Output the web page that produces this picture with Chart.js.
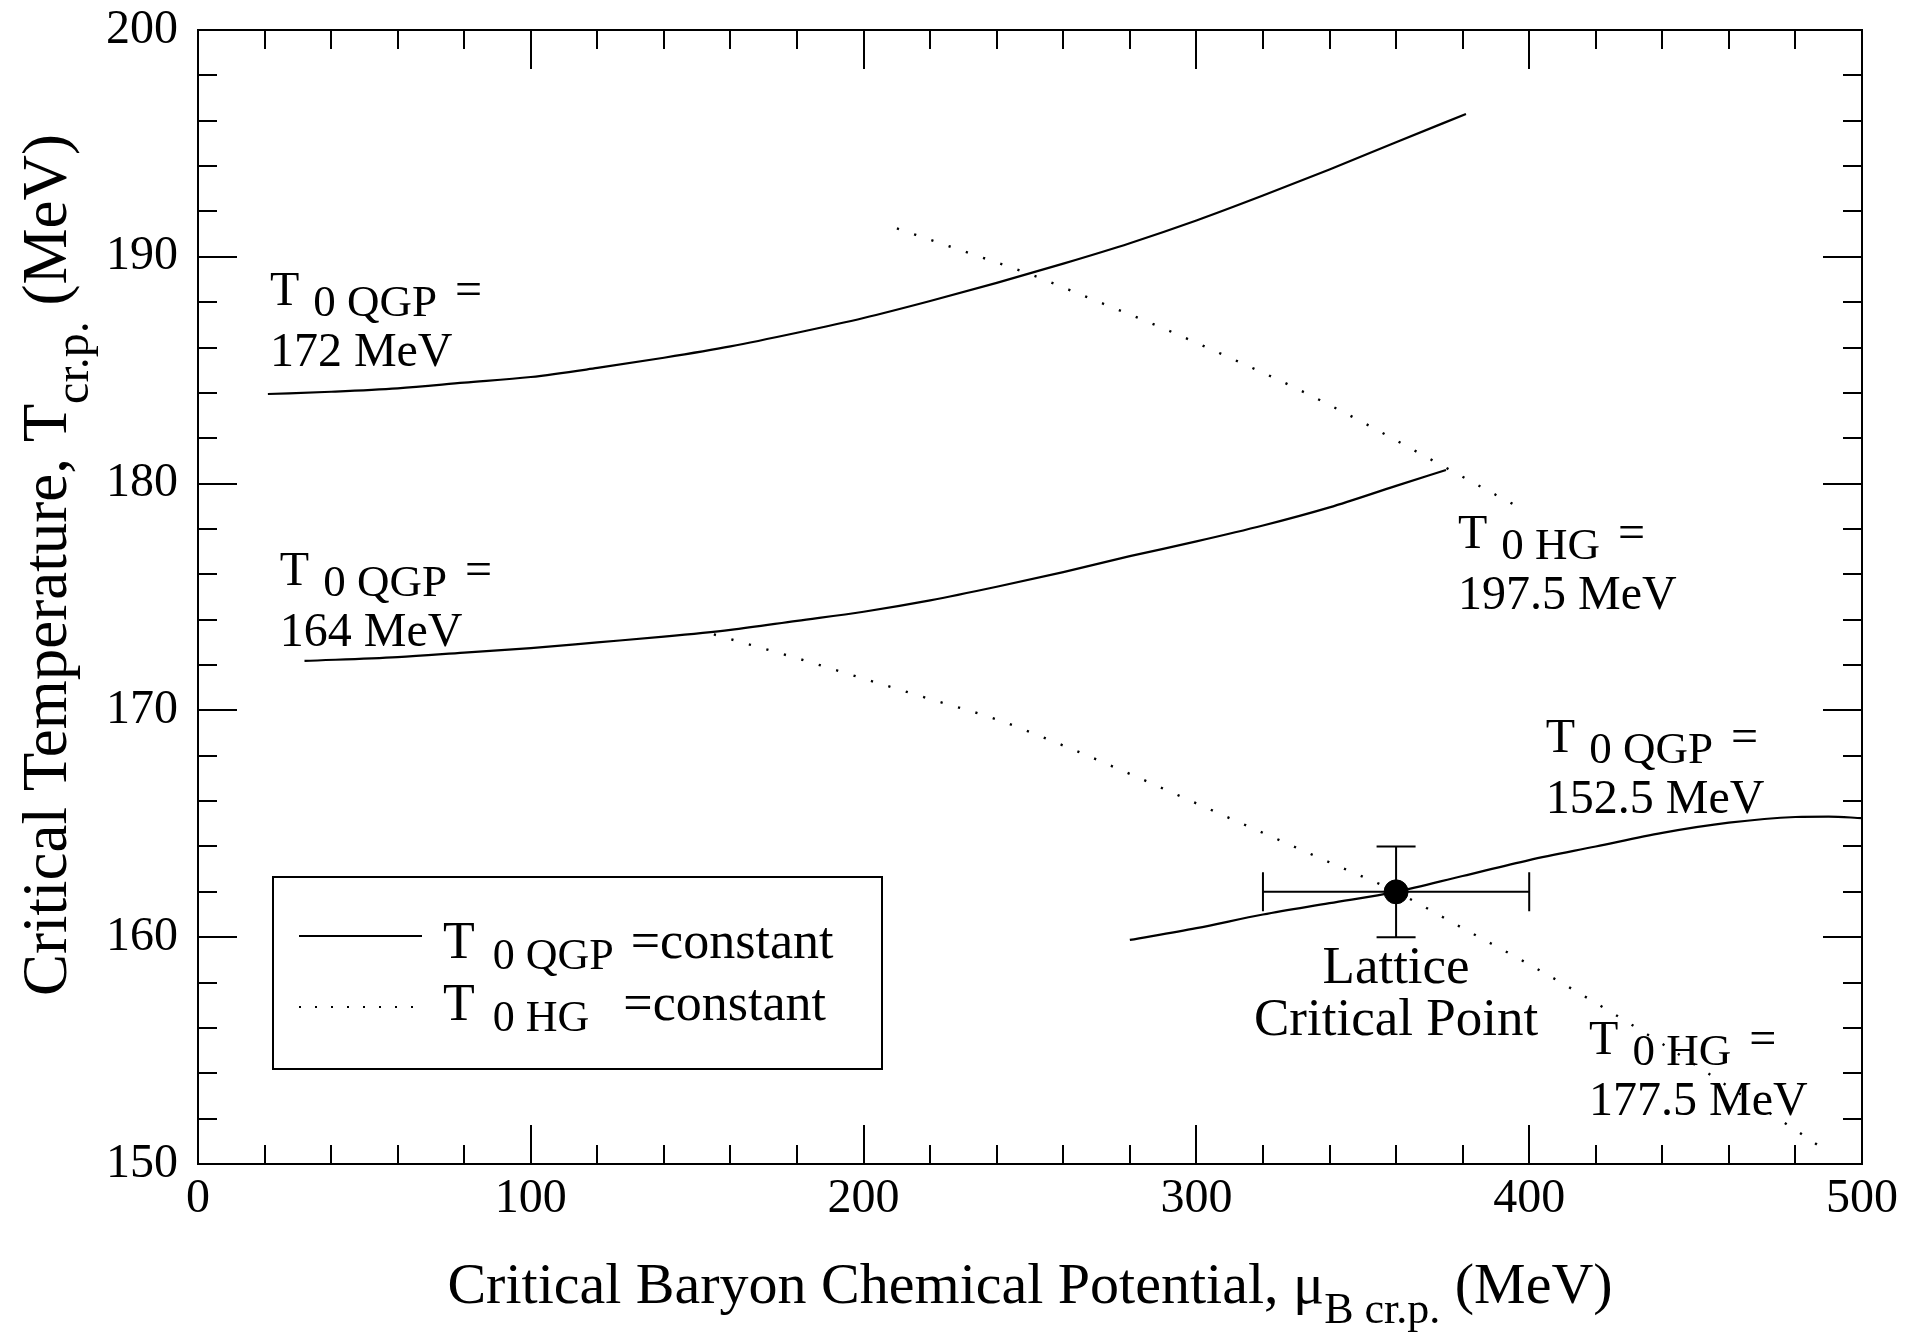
<!DOCTYPE html>
<html>
<head>
<meta charset="utf-8">
<script src="https://cdn.jsdelivr.net/npm/chart.js@4.4.1/dist/chart.umd.min.js"></script>
<style>
  html, body { margin: 0; padding: 0; background: #fff; }
</style>
</head>
<body>
<canvas id="chart" width="1927" height="1335"></canvas>
<script>
const FONT = '"Liberation Serif", "Times New Roman", serif';

// solid curves, T0 QGP = const
const qgp172Mu = [21, 40, 60, 80, 100, 120, 140, 160, 180, 200, 220, 240, 260, 280, 300, 320, 340, 360, 381];
const qgp172T  = [183.95, 184.05, 184.2, 184.45, 184.7, 185.1, 185.55, 186.05, 186.65, 187.3, 188.05, 188.85, 189.7, 190.6, 191.6, 192.7, 193.85, 195.05, 196.3];

const qgp164Mu = [32, 60, 80, 100, 120, 140, 160, 180, 200, 220, 240, 260, 280, 300, 320, 340, 360, 375];
const qgp164T  = [172.18, 172.35, 172.55, 172.75, 173.0, 173.25, 173.55, 173.95, 174.35, 174.85, 175.45, 176.1, 176.8, 177.45, 178.15, 178.95, 179.9, 180.6];

const qgp1525Mu = [280, 300, 320, 340, 360, 380, 400, 420, 440, 460, 480, 490, 500];
const qgp1525T  = [159.88, 160.4, 161.0, 161.5, 162.0, 162.7, 163.4, 164.0, 164.6, 165.05, 165.3, 165.32, 165.25];

// dotted curves, T0 HG = const
const hg1975Mu = [210, 230, 250, 270, 290, 310, 330, 350, 370, 390, 397];
const hg1975T  = [191.25, 190.25, 189.23, 188.05, 186.85, 185.55, 184.2, 182.7, 181.1, 179.5, 178.95];

const hg1775Mu = [155, 180, 200, 220, 240, 260, 280, 300, 320, 340, 360, 380, 400, 420, 440, 460, 480, 487];
const hg1775T  = [173.35, 172.3, 171.4, 170.5, 169.6, 168.45, 167.2, 165.9, 164.6, 163.3, 162.0, 160.4, 158.8, 157.1, 155.3, 153.4, 151.5, 150.8];

// lattice critical point with errors
const latticeMu = [360];
const latticeT = [162];
const latticeMuErr = [40];
const latticeTErr = [2];

// curve labels (anchor = left end of first line baseline)
const labelMu  = [21.6, 24.6, 378.6, 405.0, 418.0];
const labelT   = [187.87, 175.53, 177.16, 168.17, 154.85];
const labelSub = ['0 QGP', '0 QGP', '0 HG', '0 QGP', '0 HG'];
const labelVal = ['172 MeV', '164 MeV', '197.5 MeV', '152.5 MeV', '177.5 MeV'];

const xTicksMajor = 100, xTicksMinor = 20;
const yTicksMajor = 10, yTicksMinor = 2;

const toPts = (xs, ys) => xs.map((v, i) => ({ x: v, y: ys[i] }));

function drawRich(ctx, x, y, parts, align) {
  let w = 0;
  parts.forEach(p => { ctx.font = p.size + 'px ' + FONT; w += (p.gap || 0) + ctx.measureText(p.t).width; });
  let cx = align === 'center' ? x - w / 2 : x;
  ctx.textAlign = 'left';
  ctx.textBaseline = 'alphabetic';
  parts.forEach(p => {
    ctx.font = p.size + 'px ' + FONT;
    cx += p.gap || 0;
    ctx.fillText(p.t, cx, y + (p.dy || 0));
    cx += ctx.measureText(p.t).width;
  });
}

const decor = {
  id: 'decor',
  afterDraw(chart) {
    const { ctx, chartArea: a, scales: { x, y } } = chart;
    ctx.save();
    ctx.strokeStyle = '#000';
    ctx.fillStyle = '#000';
    ctx.lineWidth = 2;

    // frame
    ctx.strokeRect(a.left, a.top, a.right - a.left, a.bottom - a.top);

    // inward ticks on all four sides
    ctx.beginPath();
    for (let v = x.min; v <= x.max; v += xTicksMinor) {
      const px = Math.round(x.getPixelForValue(v));
      const len = v % xTicksMajor === 0 ? 39 : 19;
      ctx.moveTo(px, a.bottom); ctx.lineTo(px, a.bottom - len);
      ctx.moveTo(px, a.top); ctx.lineTo(px, a.top + len);
    }
    for (let v = y.min; v <= y.max; v += yTicksMinor) {
      const py = Math.round(y.getPixelForValue(v));
      const len = v % yTicksMajor === 0 ? 39 : 19;
      ctx.moveTo(a.left, py); ctx.lineTo(a.left + len, py);
      ctx.moveTo(a.right, py); ctx.lineTo(a.right - len, py);
    }
    ctx.stroke();

    // error bars of the lattice point
    latticeMu.forEach((m, i) => {
      const cx = x.getPixelForValue(m), cy = y.getPixelForValue(latticeT[i]);
      const x0 = x.getPixelForValue(m - latticeMuErr[i]), x1 = x.getPixelForValue(m + latticeMuErr[i]);
      const y0 = y.getPixelForValue(latticeT[i] - latticeTErr[i]), y1 = y.getPixelForValue(latticeT[i] + latticeTErr[i]);
      const cap = 19.5;
      ctx.beginPath();
      ctx.moveTo(x0, cy); ctx.lineTo(x1, cy);
      ctx.moveTo(x0, cy - cap); ctx.lineTo(x0, cy + cap);
      ctx.moveTo(x1, cy - cap); ctx.lineTo(x1, cy + cap);
      ctx.moveTo(cx, y0); ctx.lineTo(cx, y1);
      ctx.moveTo(cx - cap, y0); ctx.lineTo(cx + cap, y0);
      ctx.moveTo(cx - cap, y1); ctx.lineTo(cx + cap, y1);
      ctx.stroke();
      const ly = y0 + 46;
      drawRich(ctx, cx, ly, [{ t: 'Lattice', size: 53 }], 'center');
      drawRich(ctx, cx, ly + 52, [{ t: 'Critical Point', size: 53 }], 'center');
    });

    // curve labels
    labelMu.forEach((m, i) => {
      const lx = x.getPixelForValue(m), ly = y.getPixelForValue(labelT[i]);
      drawRich(ctx, lx, ly, [
        { t: 'T', size: 48 },
        { t: labelSub[i], size: 45, dy: 11, gap: 14 },
        { t: '=', size: 48, gap: 18 }
      ]);
      drawRich(ctx, lx, ly + 61, [{ t: labelVal[i], size: 48 }]);
    });

    // legend box
    const bx = a.left + 75, by = a.top + 847, bw = 609, bh = 192;
    ctx.strokeRect(bx, by, bw, bh);
    ctx.beginPath();
    ctx.moveTo(bx + 26, by + 59); ctx.lineTo(bx + 149, by + 59);
    ctx.stroke();
    ctx.save();
    ctx.setLineDash([2, 14]);
    ctx.lineWidth = 2.2;
    ctx.beginPath();
    ctx.moveTo(bx + 26, by + 130); ctx.lineTo(bx + 149, by + 130);
    ctx.stroke();
    ctx.restore();
    drawRich(ctx, bx + 170, by + 81, [
      { t: 'T', size: 52 }, { t: '0 QGP', size: 44, dy: 11, gap: 18 }, { t: '=constant', size: 52, gap: 17 }
    ]);
    drawRich(ctx, bx + 170, by + 143, [
      { t: 'T', size: 52 }, { t: '0 HG', size: 44, dy: 11, gap: 18 }, { t: '=constant', size: 52, gap: 34 }
    ]);

    // axis titles
    drawRich(ctx, (a.left + a.right) / 2, 1303, [
      { t: 'Critical Baryon Chemical Potential, \u03bc', size: 58 },
      { t: 'B cr.p.', size: 44, dy: 20 },
      { t: ' (MeV)', size: 58 }
    ], 'center');
    ctx.save();
    ctx.translate(66, 565);
    ctx.rotate(-Math.PI / 2);
    drawRich(ctx, 0, 0, [
      { t: 'Critical Temperature, T', size: 63 },
      { t: 'cr.p.', size: 48, dy: 22 },
      { t: ' (MeV)', size: 63 }
    ], 'center');
    ctx.restore();

    ctx.restore();
  }
};

const solid = { borderColor: '#000', borderWidth: 2.2, pointRadius: 0, showLine: true, cubicInterpolationMode: 'monotone', fill: false };
const dotted = Object.assign({}, solid, { borderDash: [2.2, 16], borderWidth: 2.4 });

new Chart(document.getElementById('chart'), {
  type: 'scatter',
  data: {
    datasets: [
      Object.assign({ label: 'T0 QGP = 172 MeV', data: toPts(qgp172Mu, qgp172T) }, solid),
      Object.assign({ label: 'T0 QGP = 164 MeV', data: toPts(qgp164Mu, qgp164T) }, solid),
      Object.assign({ label: 'T0 QGP = 152.5 MeV', data: toPts(qgp1525Mu, qgp1525T) }, solid),
      Object.assign({ label: 'T0 HG = 197.5 MeV', data: toPts(hg1975Mu, hg1975T) }, dotted),
      Object.assign({ label: 'T0 HG = 177.5 MeV', data: toPts(hg1775Mu, hg1775T) }, dotted),
      {
        label: 'Lattice Critical Point',
        data: toPts(latticeMu, latticeT),
        pointRadius: 12,
        pointBackgroundColor: '#000',
        pointBorderColor: '#000',
        showLine: false
      }
    ]
  },
  options: {
    responsive: false,
    animation: false,
    devicePixelRatio: 1,
    layout: { padding: { top: 30, right: 65, left: 0, bottom: 0 } },
    plugins: { legend: { display: false }, tooltip: { enabled: false } },
    scales: {
      x: {
        type: 'linear',
        min: 0, max: 500,
        grid: { display: false, drawTicks: false },
        border: { display: false },
        ticks: { stepSize: xTicksMajor, padding: 7, color: '#000', font: { family: FONT, size: 48 } },
        afterFit: (scale) => { scale.height = 171; scale.paddingLeft = 0; scale.paddingRight = 0; }
      },
      y: {
        type: 'linear',
        min: 150, max: 200,
        grid: { display: false, drawTicks: false },
        border: { display: false },
        ticks: { stepSize: yTicksMajor, padding: 20, color: '#000', font: { family: FONT, size: 48 } },
        afterFit: (scale) => { scale.width = 198; scale.paddingTop = 0; scale.paddingBottom = 0; }
      }
    }
  },
  plugins: [decor]
});
</script>
</body>
</html>
